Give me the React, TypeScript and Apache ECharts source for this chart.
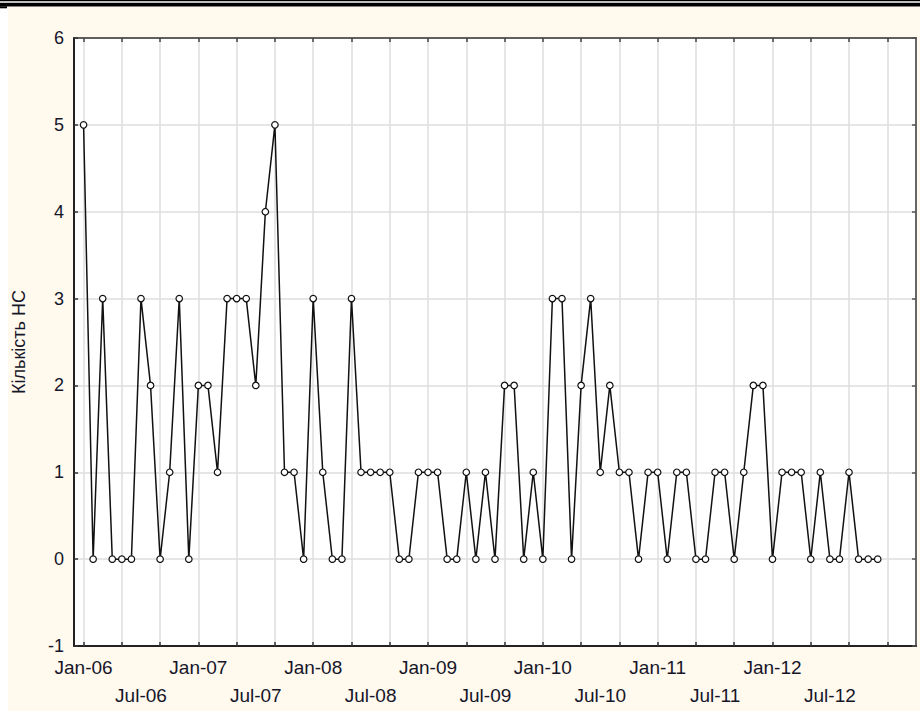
import React, { useEffect, useRef } from "react";
import * as echarts from "echarts";

// Monthly counts, Jan-2006 .. Dec-2012
const values2006: number[] = [5, 0, 3, 0, 0, 0, 3, 2, 0, 1, 3, 0];
const values2007: number[] = [2, 2, 1, 3, 3, 3, 2, 4, 5, 1, 1, 0];
const values2008: number[] = [3, 1, 0, 0, 3, 1, 1, 1, 1, 0, 0, 1];
const values2009: number[] = [1, 1, 0, 0, 1, 0, 1, 0, 2, 2, 0, 1];
const values2010: number[] = [0, 3, 3, 0, 2, 3, 1, 2, 1, 1, 0, 1];
const values2011: number[] = [1, 0, 1, 1, 0, 0, 1, 1, 0, 1, 2, 2];
const values2012: number[] = [0, 1, 1, 1, 0, 1, 0, 0, 1, 0, 0, 0];

const monthNames: string[] = ["Jan", "Feb", "Mar", "Apr", "May", "Jun", "Jul", "Aug", "Sep", "Oct", "Nov", "Dec"];
const yTicks: number[] = [-1, 0, 1, 2, 3, 4, 5, 6];
const yAxisTitle = "Кількість НС";

// axis spans one month before Jan-06 to Apr-13 (month offsets -1..87)
const firstOffset = -1;
const lastOffset = 87;
const lastLabelOffset = 78; // Jul-12

function monthLabel(offset: number): string {
  const m = ((offset % 12) + 12) % 12;
  const y = 2006 + Math.floor(offset / 12);
  return monthNames[m] + "-" + String(y % 100).padStart(2, "0");
}

const allValues: number[] = [
  ...values2006, ...values2007, ...values2008, ...values2009,
  ...values2010, ...values2011, ...values2012,
];

const categories: string[] = [];
for (let o = firstOffset; o <= lastOffset; o++) categories.push(monthLabel(o));

const seriesData: (number | null)[] = categories.map((_, i) => {
  const o = i + firstOffset;
  return o >= 0 && o < allValues.length ? allValues[o] : null;
});

const textColor = "#161629";
const font = "'Liberation Sans', Arial, sans-serif";

export default function App() {
  const ref = useRef<HTMLDivElement>(null);
  useEffect(() => {
    if (!ref.current) return;
    const chart = echarts.init(ref.current, undefined, { renderer: "svg" });
    const gridTick = (idx: number) => {
      const o = idx + firstOffset;
      return o >= 0 && o % 4 === 0;
    };
    chart.setOption({
      animation: false,
      backgroundColor: "transparent",
      textStyle: { fontFamily: font },
      graphic: [
        { type: "rect", left: 0, top: 0, shape: { width: 920, height: 1.3 }, style: { fill: "#000" }, silent: true },
        { type: "rect", left: 0, top: 2.7, shape: { width: 920, height: 3.7 }, style: { fill: "#000" }, silent: true },
        { type: "rect", left: 0, top: 6.3, shape: { width: 7, height: 2 }, style: { fill: "#000" }, silent: true },
      ],
      grid: {
        left: 74,
        right: 4,
        top: 38,
        bottom: 65,
        show: true,
        backgroundColor: "#ffffff",
        borderWidth: 0,
      },
      xAxis: [
        {
          type: "category",
          data: categories,
          boundaryGap: false,
          position: "bottom",
          axisLine: { show: true, onZero: false, lineStyle: { color: "#222", width: 2 } },
          axisTick: { show: true, inside: true, length: 4, interval: gridTick, lineStyle: { color: "#333", width: 1.5 } },
          splitLine: { show: true, interval: gridTick, lineStyle: { color: "#dedede", width: 1.5 } },
          axisLabel: {
            show: true,
            interval: (idx: number) => {
              const o = idx + firstOffset;
              return o >= 0 && o % 6 === 0 && o <= lastLabelOffset;
            },
            formatter: (val: string) => (val.startsWith("Jul") ? "\n" + val : val),
            color: textColor,
            fontSize: 19,
            fontFamily: font,
            lineHeight: 28,
            margin: 7,
          },
        },
        {
          type: "category",
          data: categories,
          boundaryGap: false,
          position: "top",
          axisLine: { show: true, onZero: false, lineStyle: { color: "#333", width: 1.5 } },
          axisTick: { show: true, inside: true, length: 4, interval: gridTick, lineStyle: { color: "#444", width: 1.5 } },
          splitLine: { show: false },
          axisLabel: { show: false },
        },
      ],
      yAxis: [
        {
          type: "value",
          min: -1,
          max: 6,
          interval: 1,
          position: "left",
          name: yAxisTitle,
          nameLocation: "middle",
          nameGap: 46,
          nameTextStyle: { color: textColor, fontSize: 18, fontFamily: font },
          axisLine: { show: true, onZero: false, lineStyle: { color: "#222", width: 2 } },
          axisTick: { show: true, inside: true, length: 4, lineStyle: { color: "#333", width: 1.5 } },
          splitLine: { show: true, lineStyle: { color: "#dedede", width: 1.5 } },
          axisLabel: {
            color: textColor,
            fontSize: 18,
            fontFamily: font,
            margin: 10,
            formatter: (v: number) => (yTicks.includes(v) ? String(v) : ""),
          },
        },
        {
          type: "value",
          min: -1,
          max: 6,
          interval: 1,
          position: "right",
          axisLine: { show: true, onZero: false, lineStyle: { color: "#666", width: 2 } },
          axisTick: { show: true, inside: true, length: 4, lineStyle: { color: "#555", width: 1.5 } },
          splitLine: { show: false },
          axisLabel: { show: false },
        },
      ],
      series: [
        {
          type: "line",
          xAxisIndex: 0,
          yAxisIndex: 0,
          data: seriesData,
          symbol: "circle",
          symbolSize: 6.5,
          showSymbol: true,
          showAllSymbol: true,
          lineStyle: { color: "#111", width: 1.5 },
          itemStyle: { color: "#ffffff", borderColor: "#111", borderWidth: 1.2 },
        },
      ],
    });
    return () => chart.dispose();
  }, []);

  return (
    <div style={{ position: "fixed", left: 0, top: 0, width: 920, height: 711, background: "#ffffff" }}>
      <div style={{ position: "absolute", left: 8, top: 7, width: 912, height: 704, background: "#fff9ee" }} />
      <div ref={ref} style={{ position: "absolute", left: 0, top: 0, width: 920, height: 711 }} />
    </div>
  );
}
